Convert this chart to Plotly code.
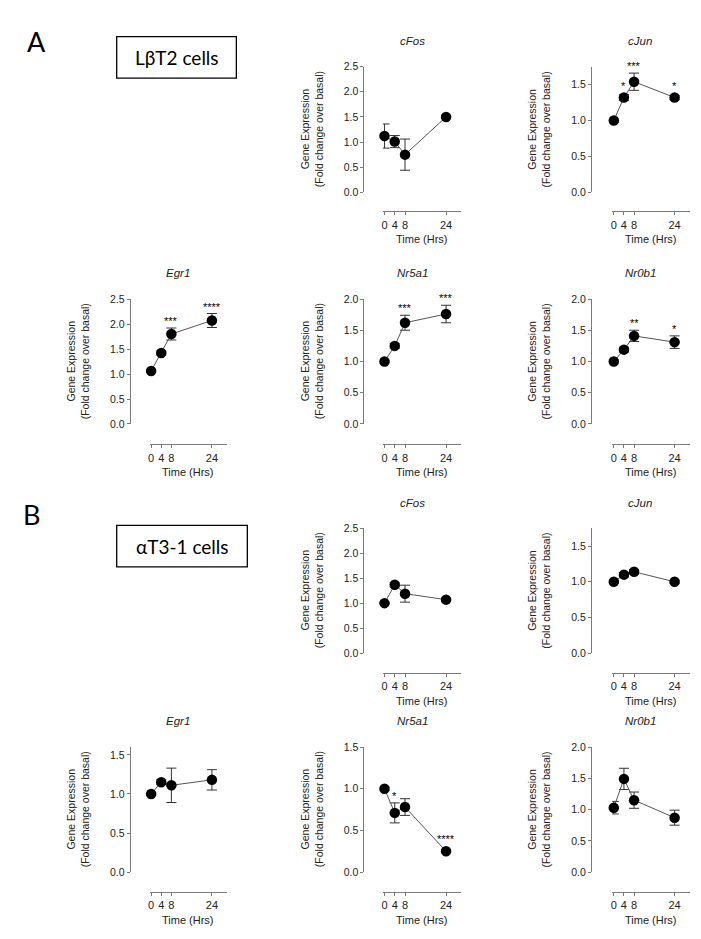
import plotly.graph_objects as go

W, H = 701, 939

# ---------------- data ----------------
TIMES = [0, 4, 8, 24]
XTICK_LABELS = ["0", "4", "8", "24"]
X_TITLE = "Time (Hrs)"
Y_TITLE = "Gene Expression<br>(Fold change over basal)"
SECTION_LABELS = ["A", "B"]
CELL_LABELS = ["LβT2 cells", "αT3-1 cells"]

# Panel A : LβT2 cells
A_cFos_mean = [1.12, 1.01, 0.75, 1.50]
A_cFos_sem = [0.24, 0.12, 0.31, 0.03]
A_cFos_stars = ["", "", "", ""]
A_cJun_mean = [1.00, 1.32, 1.54, 1.32]
A_cJun_sem = [0.02, 0.04, 0.12, 0.03]
A_cJun_stars = ["", "*", "***", "*"]
A_Egr1_mean = [1.06, 1.42, 1.80, 2.07]
A_Egr1_sem = [0.03, 0.04, 0.12, 0.14]
A_Egr1_stars = ["", "", "***", "****"]
A_Nr5a1_mean = [1.00, 1.25, 1.62, 1.76]
A_Nr5a1_sem = [0.02, 0.04, 0.12, 0.14]
A_Nr5a1_stars = ["", "", "***", "***"]
A_Nr0b1_mean = [1.00, 1.19, 1.41, 1.31]
A_Nr0b1_sem = [0.02, 0.04, 0.09, 0.10]
A_Nr0b1_stars = ["", "", "**", "*"]

# Panel B : αT3-1 cells
B_cFos_mean = [1.00, 1.37, 1.19, 1.07]
B_cFos_sem = [0.02, 0.04, 0.17, 0.03]
B_cFos_stars = ["", "", "", ""]
B_cJun_mean = [1.00, 1.10, 1.14, 1.00]
B_cJun_sem = [0.02, 0.03, 0.03, 0.02]
B_cJun_stars = ["", "", "", ""]
B_Egr1_mean = [1.00, 1.15, 1.11, 1.18]
B_Egr1_sem = [0.02, 0.03, 0.22, 0.13]
B_Egr1_stars = ["", "", "", ""]
B_Nr5a1_mean = [1.00, 0.71, 0.78, 0.25]
B_Nr5a1_sem = [0.02, 0.12, 0.10, 0.02]
B_Nr5a1_stars = ["", "*", "", "****"]
B_Nr0b1_mean = [1.03, 1.49, 1.15, 0.87]
B_Nr0b1_sem = [0.10, 0.17, 0.13, 0.12]
B_Nr0b1_stars = ["", "", "", ""]

# y-axis maxima per panel
Y_MAX = {
    "A_cFos": 2.5, "A_cJun": 1.75, "A_Egr1": 2.5, "A_Nr5a1": 2.0, "A_Nr0b1": 2.0,
    "B_cFos": 2.5, "B_cJun": 1.75, "B_Egr1": 1.6, "B_Nr5a1": 1.5, "B_Nr0b1": 2.0,
}

# ---------------- layout geometry (pixels) ----------------
COL_YAXIS = [120, 354.5, 582.5]
COL_X0 = [140, 374, 604]
COL_X1 = [217.5, 452.5, 681.5]
ROWS = {  # (top of y axis, y=0 pixel, x-axis line pixel)
    "A1": (53.3, 180.7, 200),
    "A2": (288.7, 415.3, 436),
    "B1": (521, 647.3, 667.5),
    "B2": (742.5, 869.2, 889.3),
}
X_RANGE = [-0.6, 29.9]


def fx(px):
    return px / W


def fy(py):
    return 1 - py / H


panels = [
    ("cFos", A_cFos_mean, A_cFos_sem, A_cFos_stars, Y_MAX["A_cFos"], 1, "A1"),
    ("cJun", A_cJun_mean, A_cJun_sem, A_cJun_stars, Y_MAX["A_cJun"], 2, "A1"),
    ("Egr1", A_Egr1_mean, A_Egr1_sem, A_Egr1_stars, Y_MAX["A_Egr1"], 0, "A2"),
    ("Nr5a1", A_Nr5a1_mean, A_Nr5a1_sem, A_Nr5a1_stars, Y_MAX["A_Nr5a1"], 1, "A2"),
    ("Nr0b1", A_Nr0b1_mean, A_Nr0b1_sem, A_Nr0b1_stars, Y_MAX["A_Nr0b1"], 2, "A2"),
    ("cFos", B_cFos_mean, B_cFos_sem, B_cFos_stars, Y_MAX["B_cFos"], 1, "B1"),
    ("cJun", B_cJun_mean, B_cJun_sem, B_cJun_stars, Y_MAX["B_cJun"], 2, "B1"),
    ("Egr1", B_Egr1_mean, B_Egr1_sem, B_Egr1_stars, Y_MAX["B_Egr1"], 0, "B2"),
    ("Nr5a1", B_Nr5a1_mean, B_Nr5a1_sem, B_Nr5a1_stars, Y_MAX["B_Nr5a1"], 1, "B2"),
    ("Nr0b1", B_Nr0b1_mean, B_Nr0b1_sem, B_Nr0b1_stars, Y_MAX["B_Nr0b1"], 2, "B2"),
]

FONT = "Liberation Sans, Arial, sans-serif"
AXIS_COLOR = "#7a7a7a"
TEXT_COLOR = "#222222"

fig = go.Figure()
layout = dict(
    width=W, height=H,
    margin=dict(l=0, r=0, t=0, b=0),
    paper_bgcolor="white", plot_bgcolor="white",
    showlegend=False,
    font=dict(family=FONT, color=TEXT_COLOR, size=10),
)
annotations = []
shapes = []

for i, (gene, mean, sem, stars, ymax, col, row) in enumerate(panels, start=1):
    ytop, ybot, xline = ROWS[row]
    xa = "x" if i == 1 else f"x{i}"
    ya = "y" if i == 1 else f"y{i}"
    xkey = "xaxis" if i == 1 else f"xaxis{i}"
    ykey = "yaxis" if i == 1 else f"yaxis{i}"

    fig.add_trace(go.Scatter(
        x=TIMES, y=mean, xaxis=xa, yaxis=ya, mode="lines+markers",
        line=dict(color="#555555", width=1),
        marker=dict(color="black", size=10.5),
        error_y=dict(type="data", array=sem, visible=True, color="#333333",
                     thickness=1, width=5),
        cliponaxis=False, hoverinfo="skip",
    ))

    layout[xkey] = dict(
        domain=[fx(COL_X0[col]), fx(COL_X1[col])], anchor="free",
        position=fy(xline), range=X_RANGE, showgrid=False, zeroline=False,
        showline=True, linecolor=AXIS_COLOR, linewidth=1,
        ticks="outside", ticklen=3, tickcolor=AXIS_COLOR, tickwidth=1,
        tickvals=TIMES, ticktext=XTICK_LABELS,
        tickfont=dict(size=11, color=TEXT_COLOR, family=FONT),
    )
    layout[ykey] = dict(
        domain=[fy(ybot), fy(ytop)], anchor="free", position=fx(COL_YAXIS[col]),
        range=[0, ymax], showgrid=False, zeroline=False,
        showline=True, linecolor=AXIS_COLOR, linewidth=1,
        ticks="outside", ticklen=3, tickcolor=AXIS_COLOR, tickwidth=1,
        tick0=0, dtick=0.5, tickformat=".1f",
        tickfont=dict(size=10.5, color=TEXT_COLOR, family=FONT),
    )

    # panel title
    annotations.append(dict(
        x=fx((COL_YAXIS[col] + COL_X1[col]) / 2), y=fy(ytop - 26),
        xref="paper", yref="paper", text=f"<i>{gene}</i>", showarrow=False,
        font=dict(size=11.5, color=TEXT_COLOR, family=FONT),
        xanchor="center", yanchor="middle",
    ))
    # y-axis title
    annotations.append(dict(
        x=fx(COL_YAXIS[col] - 52), y=fy((ytop + ybot) / 2),
        xref="paper", yref="paper", text=Y_TITLE, showarrow=False,
        textangle=-90, font=dict(size=10.5, color=TEXT_COLOR, family=FONT),
        xanchor="center", yanchor="middle",
    ))
    # x-axis title
    annotations.append(dict(
        x=fx((COL_X0[col] + COL_X1[col]) / 2), y=fy(xline + 28),
        xref="paper", yref="paper", text=X_TITLE, showarrow=False,
        font=dict(size=11, color=TEXT_COLOR, family=FONT),
        xanchor="center", yanchor="middle",
    ))
    # significance stars
    ppu = (ybot - ytop) / ymax
    for t, m, s, st in zip(TIMES, mean, sem, stars):
        if not st:
            continue
        top = max(m + s, m + 5 / ppu)
        annotations.append(dict(
            x=t, y=top, xref=xa, yref=ya, text=st, showarrow=False,
            font=dict(size=11, color="black", family=FONT),
            xanchor="center", yanchor="bottom", yshift=-1,
        ))

# section labels and boxes
SECTION_POS = [(27, 28), (22, 507)]
BOX_POS = [(107, 23, 227, 65), (107, 518, 238, 560)]
for lab, (sx, sy), cell, (bx0, by0, bx1, by1) in zip(SECTION_LABELS, SECTION_POS, CELL_LABELS, BOX_POS):
    annotations.append(dict(
        x=fx(sx), y=fy(sy), xref="paper", yref="paper", text=lab, showarrow=False,
        font=dict(size=27, color="black", family="Lato, Open Sans, sans-serif"),
        xanchor="center", yanchor="middle",
    ))
    shapes.append(dict(
        type="rect", xref="paper", yref="paper",
        x0=fx(bx0), x1=fx(bx1), y0=fy(by1), y1=fy(by0),
        line=dict(color="black", width=1.3), fillcolor="rgba(0,0,0,0)",
    ))
    annotations.append(dict(
        x=fx((bx0 + bx1) / 2), y=fy((by0 + by1) / 2), xref="paper", yref="paper",
        text=cell, showarrow=False,
        font=dict(size=19, color="black", family="Lato, Open Sans, sans-serif"),
        xanchor="center", yanchor="middle",
    ))

layout["annotations"] = annotations
layout["shapes"] = shapes
fig.update_layout(**layout)
fig.write_html("out.html")
